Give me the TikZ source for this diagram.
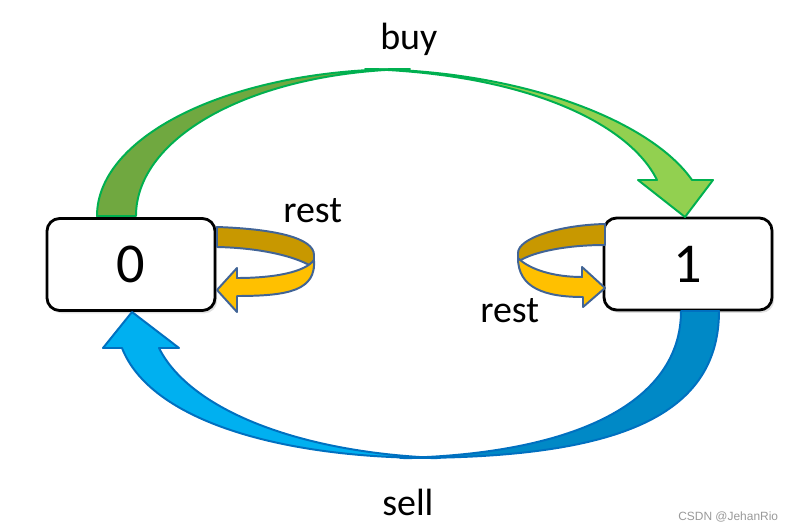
\documentclass[tikz,border=0pt]{standalone}
\usepackage{fontspec}
\setmainfont{Carlito}
\newfontfamily\markfont{Liberation Sans}
\usepackage{tikz}
\usetikzlibrary{shadows}

\definecolor{gdark}{RGB}{112,168,64}
\definecolor{glight}{RGB}{146,208,80}
\definecolor{gedge}{RGB}{0,176,80}
\definecolor{bdark}{RGB}{0,137,198}
\definecolor{blight}{RGB}{0,176,240}
\definecolor{bedge}{RGB}{0,112,192}
\definecolor{odark}{RGB}{200,152,0}
\definecolor{olight}{RGB}{255,192,0}
\definecolor{oedge}{RGB}{65,100,150}

\begin{document}
\begin{tikzpicture}[x=0.025cm, y=-0.025cm,
    state/.style={draw, line width=2pt, rounded corners=9pt, fill=white,
        minimum width=4.2cm, minimum height=2.3cm,
        font=\fontsize{40}{48}\selectfont,
        drop shadow={shadow xshift=1.5pt, shadow yshift=-2pt, fill=black!40, opacity=0.3}},
    lbl/.style={anchor=base west, inner sep=0pt, font=\fontsize{27}{32}\selectfont},
    gline/.style={draw=gedge, line width=1.4pt, line join=round},
    bline/.style={draw=bedge, line width=1.4pt, line join=round},
    oline/.style={draw=oedge, line width=1.4pt, line join=round}]
    \useasboundingbox (0,0) rectangle (801,531);

    % the two states
    \node[state] (s0) at (131,264.5) {0};
    \node[state] (s1) at (688,264) {1};

    % buy: 0 -> 1
    \draw[gline, fill=gdark] (97,216) .. controls (97,135) and (233,68) .. (410,69) .. controls (254,72) and (136,136) .. (136,216) -- cycle;
    \draw[gline, fill=glight] (365,69) .. controls (520,70) and (650,120) .. (692,180) -- (713,180) -- (685,217) -- (638,180) -- (657,180) .. controls (630,125) and (530,74) .. (365,69) -- cycle;

    % sell: 1 -> 0
    \draw[bline, fill=bdark] (719,311) .. controls (719,420) and (610,459) .. (400,458) .. controls (580,454) and (681,400) .. (681,311) -- cycle;
    \draw[bline, fill=blight] (440,458) .. controls (280,459) and (150,420) .. (122,348) -- (103,348) -- (132,312) -- (179,348) -- (159,348) .. controls (190,410) and (300,453) .. (440,458) -- cycle;

    % rest on 0
    \draw[oline, fill=odark] (217,227) .. controls (275,229) and (314,238) .. (314,255) -- (314,268) .. controls (300,258) and (265,248) .. (217,247) -- cycle;
    \draw[oline, fill=olight] (314,260) .. controls (305,272) and (275,278) .. (237,278) -- (237,268) -- (217,290) -- (237,312) -- (237,296) .. controls (290,296) and (316,290) .. (314,260) -- cycle;

    % rest on 1
    \draw[oline, fill=odark] (605,224) .. controls (560,225) and (518,238) .. (518,253) -- (518,262) .. controls (528,254) and (560,245) .. (605,245) -- cycle;
    \draw[oline, fill=olight] (518,258) .. controls (530,270) and (555,277) .. (582,277) -- (582,267) -- (605,288) -- (583,307) -- (583,297) .. controls (545,297) and (518,288) .. (518,258) -- cycle;

    % labels
    \node[lbl] (buy) at (380,50) {buy};
    \node[lbl] (rest0) at (283,222) {rest};
    \node[lbl] (rest1) at (480,322) {rest};
    \node[lbl] (sell) at (382,515) {sell};
    \node[anchor=base west, inner sep=0pt, text=black!40, font=\markfont\fontsize{8.5}{10}\selectfont] (mark) at (678,520) {CSDN @JehanRio};
\end{tikzpicture}
\end{document}
